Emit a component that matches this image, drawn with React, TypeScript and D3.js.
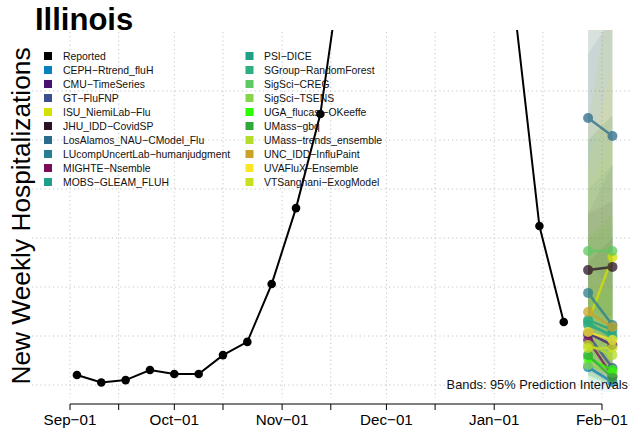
import React from "react";
import * as d3 from "d3";

const reportedDates = [
  "2022-09-03", "2022-09-10", "2022-09-17", "2022-09-24", "2022-10-01", "2022-10-08",
  "2022-10-15", "2022-10-22", "2022-10-29", "2022-11-05", "2022-11-12", "2022-11-19",
  "2022-11-26", "2022-12-03", "2022-12-10", "2022-12-17", "2022-12-24", "2022-12-31",
  "2023-01-07", "2023-01-14", "2023-01-21",
];
const reportedValues = [
  41, 10, 20, 61, 45, 45, 122, 176, 412, 722, 1106, 1800, 2500, 3100, 3300, 2900, 2500, 2100,
  1520, 649, 257,
];

const forecastDates = ["2023-01-28", "2023-02-04"];

const modelNames = [
  "CEPH\u2212Rtrend_fluH", "CMU\u2212TimeSeries", "GT\u2212FluFNP", "ISU_NiemiLab\u2212Flu",
  "JHU_IDD\u2212CovidSP", "LosAlamos_NAU\u2212CModel_Flu", "LUcompUncertLab\u2212humanjudgment",
  "MIGHTE\u2212Nsemble", "MOBS\u2212GLEAM_FLUH", "PSI\u2212DICE", "SGroup\u2212RandomForest",
  "SigSci\u2212CREG", "SigSci\u2212TSENS", "UGA_flucast\u2212OKeeffe", "UMass\u2212gbq",
  "UMass\u2212trends_ensemble", "UNC_IDD\u2212InfluPaint", "UVAFluX\u2212Ensemble",
  "VTSanghani\u2212ExogModel",
];
const modelColors = [
  "#0a7fbd", "#4a1270", "#3c4e8e", "#d4e100", "#2a1126", "#2c6b8c", "#277e8e", "#7b0b5b",
  "#1f9e89", "#21a085", "#2bb07f", "#5ec962", "#86d549", "#2aff00", "#2ea83a", "#b3dc2b",
  "#c7a227", "#fde725", "#c9e020",
];
const medianWeek1 = [73, 212, 204, 257, 469, 1090, 376, 184, 265, 245, 257, 547, 82, 110, 122, 163, 298, 216, 151];
const medianWeek2 = [12, 163, 69, 522, 482, 1016, 245, 37, 225, 204, 192, 547, 49, 61, 29, 122, 237, 184, 151];
const lowerWeek1 = [-20, 60, 40, 100, 300, 500, 150, 60, 120, 100, 100, 250, 20, 30, 40, 60, 80, 90, 60];
const upperWeek1 = [1700, 700, 1350, 1050, 700, 1900, 1000, 500, 600, 800, 600, 1000, 400, 350, 500, 600, 1500, 900, 800];
const lowerWeek2 = [-30, 20, 0, 150, 280, 380, 80, 0, 60, 40, 50, 200, 0, 0, 0, 20, 30, 40, 30];
const upperWeek2 = [1800, 900, 1500, 1700, 750, 2000, 1100, 600, 700, 900, 650, 1100, 450, 400, 600, 700, 1800, 1300, 1000];

const gridValues = [0, 200, 400, 600, 800, 1000, 1200];
const gridDates = [
  "2022-09-01", "2022-09-15", "2022-10-01", "2022-10-15", "2022-11-01", "2022-11-15",
  "2022-12-01", "2022-12-15", "2023-01-01", "2023-01-15", "2023-02-01",
];
const minorTickDates = ["2022-09-15", "2022-10-15", "2022-11-15", "2022-12-15"];
const majorTickDates = ["2022-09-01", "2022-10-01", "2022-11-01", "2022-12-01", "2023-01-01", "2023-02-01"];
const majorTickLabels = ["Sep\u221201", "Oct\u221201", "Nov\u221201", "Dec\u221201", "Jan\u221201", "Feb\u221201"];

const parse = d3.utcParse("%Y-%m-%d");

export default function App() {
  const W = 632, H = 433;
  const plot = { left: 32, right: 632, top: 30, bottom: 398 };
  const x = d3.scaleUtc().domain([parse("2022-09-01")!, parse("2023-02-01")!]).range([70, 602]);
  const y = d3.scaleLinear().domain([0, 1200]).range([385, 91]);
  const font = "'Liberation Sans', Arial, Helvetica, sans-serif";

  const rep = reportedDates.map((d, i) => ({ x: x(parse(d)!), y: y(reportedValues[i]) }));
  const line = d3.line<{ x: number; y: number }>().x((d) => d.x).y((d) => d.y);
  const fx = forecastDates.map((d) => x(parse(d)!));

  const area = d3
    .area<{ x: number; lo: number; hi: number }>()
    .x((d) => d.x)
    .y0((d) => y(d.lo))
    .y1((d) => y(d.hi));

  const legendItems = [{ name: "Reported", color: "#000000" }].concat(
    modelNames.map((n, i) => ({ name: n, color: modelColors[i] }))
  );

  return (
    <svg width={W} height={H} style={{ display: "block", position: "absolute", left: 0, top: 0, background: "#fff" }} fontFamily={font}>
      <defs>
        <clipPath id="plotclip">
          <rect x={plot.left} y={plot.top} width={plot.right - plot.left} height={plot.bottom - plot.top} />
        </clipPath>
      </defs>
      <rect x={0} y={0} width={W} height={H} fill="#fff" />
      {/* grid */}
      <g stroke="#c4c4c4" strokeWidth={1} strokeDasharray="1.2 3">
        {gridValues.map((v) => (
          <line key={"h" + v} x1={plot.left} x2={plot.right} y1={y(v)} y2={y(v)} />
        ))}
        {gridDates.map((d) => (
          <line key={"v" + d} x1={x(parse(d)!)} x2={x(parse(d)!)} y1={plot.top + 2} y2={plot.bottom} />
        ))}
      </g>
      <g clipPath="url(#plotclip)">
        {/* bands */}
        {modelNames.map((n, i) => (
          <path
            key={"b" + n}
            d={
              area([
                { x: fx[0], lo: lowerWeek1[i], hi: upperWeek1[i] },
                { x: fx[1], lo: lowerWeek2[i], hi: upperWeek2[i] },
              ]) || ""
            }
            fill={modelColors[i]}
            fillOpacity={0.085}
          />
        ))}
        {/* reported */}
        <path d={line(rep) || ""} fill="none" stroke="#000" strokeWidth={2} />
        {rep.map((p, i) => (
          <circle key={"r" + i} cx={p.x} cy={p.y} r={4.3} fill="#000" />
        ))}
        {/* forecasts */}
        {modelNames.map((n, i) => {
          const pts = [
            { x: fx[0], y: y(medianWeek1[i]) },
            { x: fx[1], y: y(medianWeek2[i]) },
          ];
          return (
            <g key={"f" + n} opacity={0.75}>
              <path d={line(pts) || ""} stroke={modelColors[i]} strokeWidth={2.5} fill="none" />
              {pts.map((p, j) => (
                <circle key={j} cx={p.x} cy={p.y} r={5} fill={modelColors[i]} />
              ))}
            </g>
          );
        })}
      </g>
      {/* legend */}
      <g fontSize={10.4} fill="#111">
        {legendItems.map((it, i) => {
          const col = Math.floor(i / 10);
          const row = i % 10;
          const sx = col === 0 ? 44 : 245.5;
          const tx = col === 0 ? 63 : 264;
          const cy = 56 + row * 14;
          return (
            <g key={"l" + i}>
              <rect x={sx} y={cy - 4} width={8} height={8} fill={it.color} />
              <text x={tx} y={cy + 3.7}>{it.name}</text>
            </g>
          );
        })}
      </g>
      <text x={628} y={389} textAnchor="end" fontSize={12.8} fill="#111">
        Bands: 95% Prediction Intervals
      </text>
      {/* x axis */}
      <g stroke="#000" strokeWidth={1}>
        <line x1={x(parse(majorTickDates[0])!)} x2={x(parse(majorTickDates[majorTickDates.length - 1])!)} y1={404} y2={404} />
        {majorTickDates.concat(minorTickDates).map((d) => (
          <line key={"t" + d} x1={x(parse(d)!)} x2={x(parse(d)!)} y1={404} y2={410} />
        ))}
      </g>
      <g fontSize={15.2} textAnchor="middle" fill="#000">
        {majorTickDates.map((d, i) => (
          <text key={"xl" + d} x={x(parse(d)!)} y={425}>
            {majorTickLabels[i]}
          </text>
        ))}
      </g>
      {/* y label */}
      <text transform="translate(30,216) rotate(-90)" textAnchor="middle" fontSize={26.3} fill="#000">
        New Weekly Hospitalizations
      </text>
      {/* title */}
      <text x={35} y={30} fontSize={31} fontWeight="bold" fill="#000">
        Illinois
      </text>
    </svg>
  );
}
